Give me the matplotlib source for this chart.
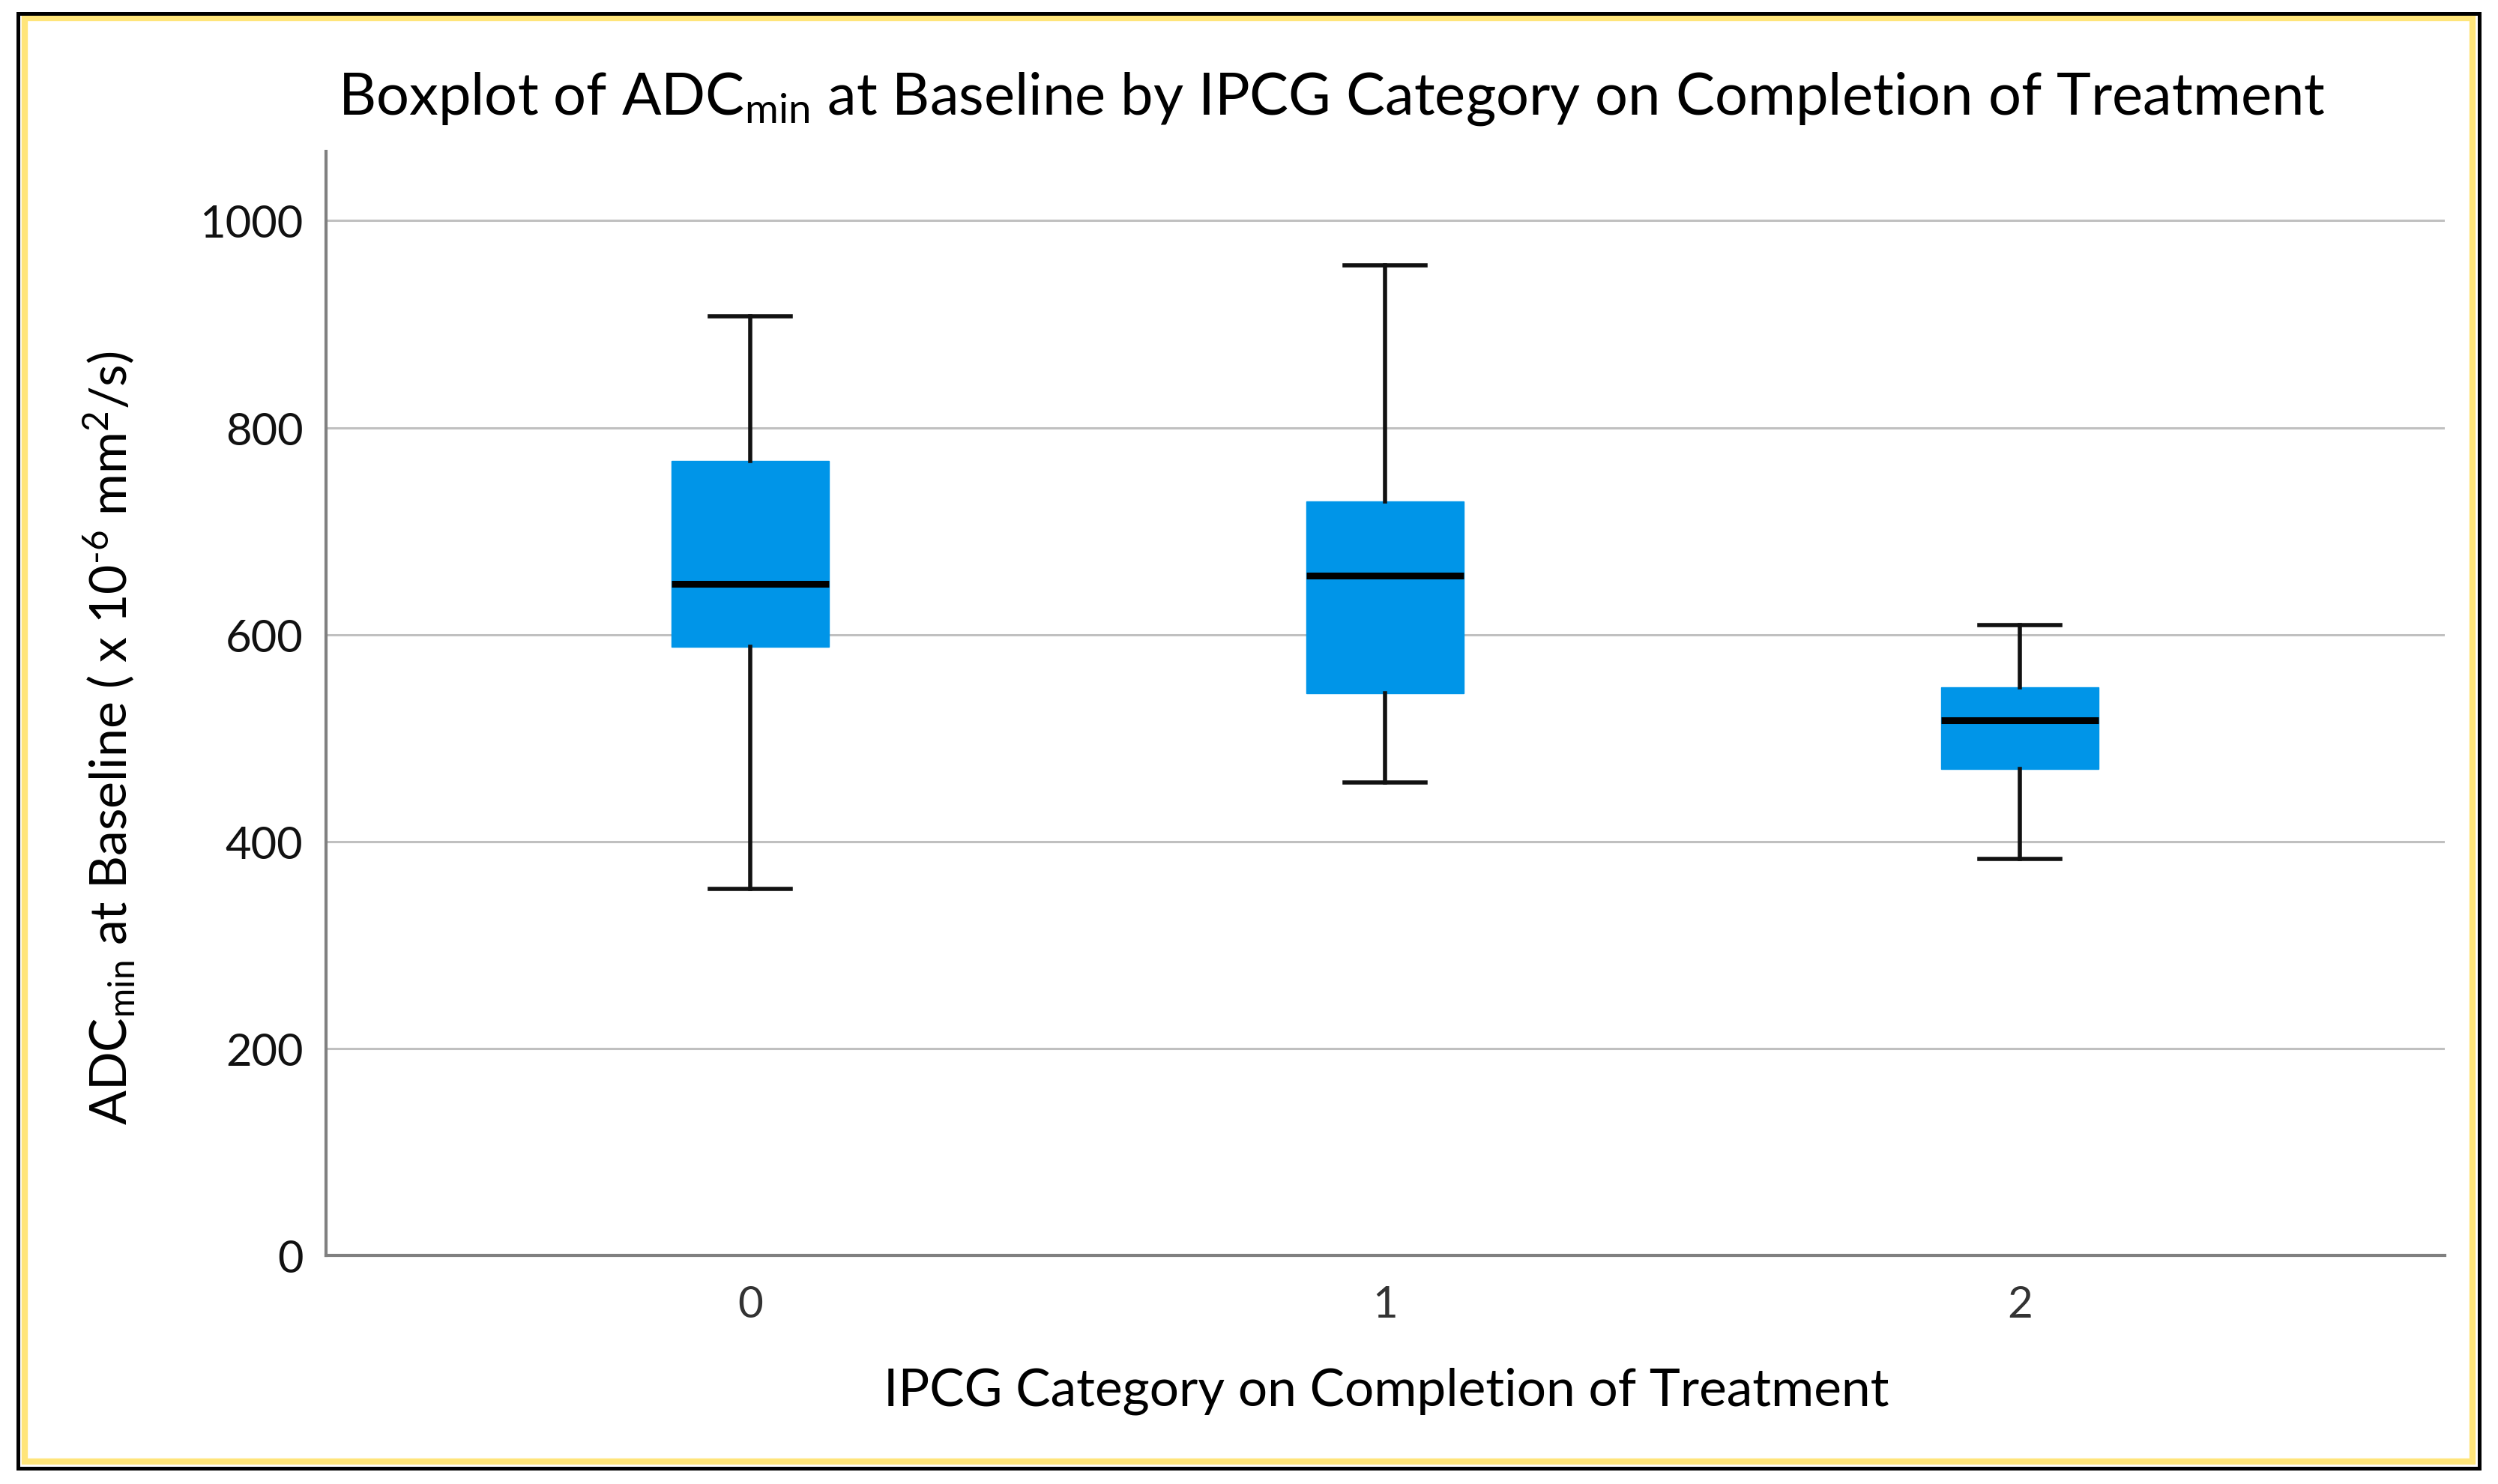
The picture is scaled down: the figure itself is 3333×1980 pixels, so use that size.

# Boxplot of ADCmin at baseline by IPCG category
import numpy as np
import matplotlib.pyplot as plt
from matplotlib.patches import Rectangle

# data
categories = ["0", "1", "2"]
whislo = [354, 457, 383]
q1 = [588, 543, 470]
med = [649, 657, 517]
q3 = [768, 729, 549]
whishi = [908, 957, 609]
yticks = [0, 200, 400, 600, 800, 1000]

plt.rcParams['font.family'] = ['Lato', 'DejaVu Sans']
plt.rcParams['mathtext.fontset'] = 'custom'
plt.rcParams['mathtext.rm'] = 'Lato'
plt.rcParams['mathtext.it'] = 'Lato:italic'

W, H = 3333, 1981
fig = plt.figure(figsize=(W / 100, H / 100), dpi=100)
ax = fig.add_axes([435 / W, 1 - 1676 / H, (3262 - 435) / W, (1676 - 203) / H])

stats = []
for i in range(len(categories)):
    stats.append(dict(label=categories[i], whislo=whislo[i], q1=q1[i], med=med[i],
                      q3=q3[i], whishi=whishi[i], fliers=[]))

ax.bxp(stats, positions=np.arange(len(categories)), widths=0.248,
       patch_artist=True, showfliers=False,
       boxprops=dict(facecolor='#0095E8', edgecolor='#0095E8', linewidth=1),
       medianprops=dict(color='black', linewidth=6.5, solid_capstyle='butt'),
       whiskerprops=dict(color='#111111', linewidth=4),
       capprops=dict(color='#111111', linewidth=4),
       capwidths=0.128, zorder=3)

ax.set_xlim(-0.668, 2.669)
ax.set_ylim(0, 1067)
ax.set_yticks(yticks)
ax.yaxis.grid(True, color='#c0c0c0', linewidth=2.2)
ax.set_axisbelow(True)
ax.tick_params(axis='both', length=0)
ax.tick_params(axis='y', labelsize=43, labelcolor='#111111', pad=22)
ax.tick_params(axis='x', labelsize=42, labelcolor='#333333', pad=28)

for s in ['top', 'right']:
    ax.spines[s].set_visible(False)
for s in ['left', 'bottom']:
    ax.spines[s].set_color('#808080')
    ax.spines[s].set_linewidth(3)

# title and axis labels
fig.text(1777 / W, 1 - 132 / H,
         'Boxplot of ADC$_{\\mathrm{min}}$ at Baseline by IPCG Category on Completion of Treatment',
         ha='center', va='center', fontsize=56, color='black')
fig.text(1850 / W, 1 - 1856 / H, 'IPCG Category on Completion of Treatment',
         ha='center', va='center', fontsize=50, color='black')
fig.text(145 / W, 1 - 985 / H,
         'ADC$_{\\mathrm{min}}$ at Baseline ( x 10$^{\\text{-6}}$ mm$^{\\mathrm{2}}$/s)',
         ha='center', va='center', rotation=90, fontsize=49, color='black')

# frame around the picture
fig.patches.append(Rectangle((33 / W, 1 - 1951 / H), (3299 - 33) / W, (1951 - 25) / H,
                             transform=fig.transFigure, fill=False,
                             edgecolor='#FFE57A', linewidth=6))
fig.patches.append(Rectangle((24 / W, 1 - 1960 / H), (3308 - 24) / W, (1960 - 19) / H,
                             transform=fig.transFigure, fill=False,
                             edgecolor='black', linewidth=3.6))

fig.savefig('out.png', dpi=100)
